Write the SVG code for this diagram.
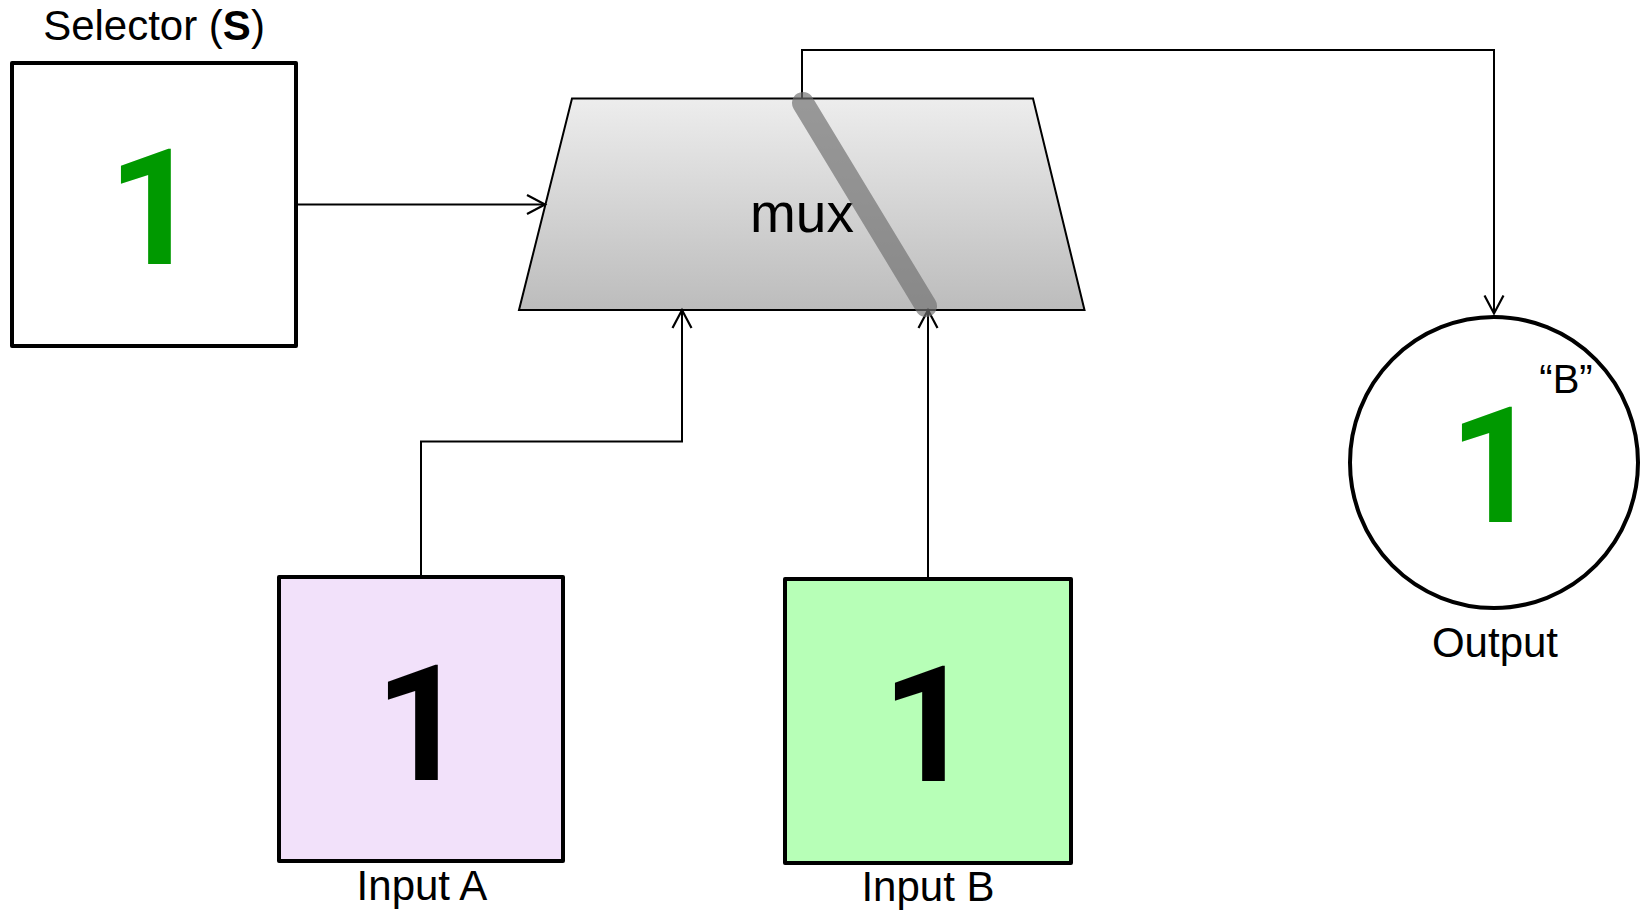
<svg xmlns="http://www.w3.org/2000/svg" width="1645" height="910" viewBox="0 0 1645 910">
<defs>
<linearGradient id="muxg" x1="0" y1="0" x2="0" y2="1">
<stop offset="0" stop-color="#ededed"/>
<stop offset="1" stop-color="#bcbcbc"/>
</linearGradient>
<marker id="arr" markerUnits="userSpaceOnUse" markerWidth="24" markerHeight="24" viewBox="-20 -12 24 24" refX="0" refY="0" orient="auto">
<path d="M-18,-9.5 L0,0 L-18,9.5" fill="none" stroke="#000" stroke-width="2.2" stroke-linejoin="miter"/>
</marker>
<style>
.box{stroke:#000;stroke-width:4;stroke-linejoin:round}
.lbl{font-family:"Liberation Sans",Arial,sans-serif;font-size:42px;fill:#000;text-anchor:middle}
.big{font-family:Roboto,"Noto Sans",sans-serif;font-size:161px;font-weight:bold;text-anchor:middle}
.conn{fill:none;stroke:#000;stroke-width:2}
</style>
</defs>
<rect width="1645" height="910" fill="#fff"/>
<g id="mux">
<polygon points="572,98.5 1033,98.5 1084.5,310 519,310" fill="url(#muxg)" stroke="#000" stroke-width="2"/>
<text x="802" y="231.5" class="lbl" style="font-size:55px">mux</text>
</g>
<g id="connectors">
<path class="conn" d="M298,204.5 H545" marker-end="url(#arr)"/>
<path class="conn" d="M421,575 V441.5 H682 V310" marker-end="url(#arr)"/>
<path class="conn" d="M928,577 V310" marker-end="url(#arr)"/>
<path class="conn" d="M802,98.5 V50 H1494 V313.5" marker-end="url(#arr)"/>
</g>
<g id="switch">
<line x1="803" y1="103" x2="926" y2="306" stroke="#707070" stroke-opacity="0.68" stroke-width="22" stroke-linecap="round"/>
</g>
<g id="selector">
<rect class="box" x="12" y="63" width="284" height="283" fill="#fff"/>
<text x="154" y="40" class="lbl">Selector (<tspan font-weight="bold">S</tspan>)</text>
<text x="154" y="264" class="big" fill="#009900">1</text>
</g>
<g id="inputA">
<rect class="box" x="279" y="577" width="284" height="284" fill="#f2e1fa"/>
<text x="421" y="780" class="big" fill="#000">1</text>
<text x="422" y="900" class="lbl">Input A</text>
</g>
<g id="inputB">
<rect class="box" x="785" y="579" width="286" height="284" fill="#b7ffb7"/>
<text x="928" y="781" class="big" fill="#000">1</text>
<text x="928" y="901" class="lbl">Input B</text>
</g>
<g id="output">
<ellipse cx="1494" cy="462.5" rx="144" ry="145.5" fill="#fff" stroke="#000" stroke-width="4"/>
<text x="1566" y="392.5" class="lbl" style="font-size:40px">“B”</text>
<text x="1495" y="522" class="big" fill="#009900">1</text>
<text x="1495" y="657" class="lbl">Output</text>
</g>
</svg>
